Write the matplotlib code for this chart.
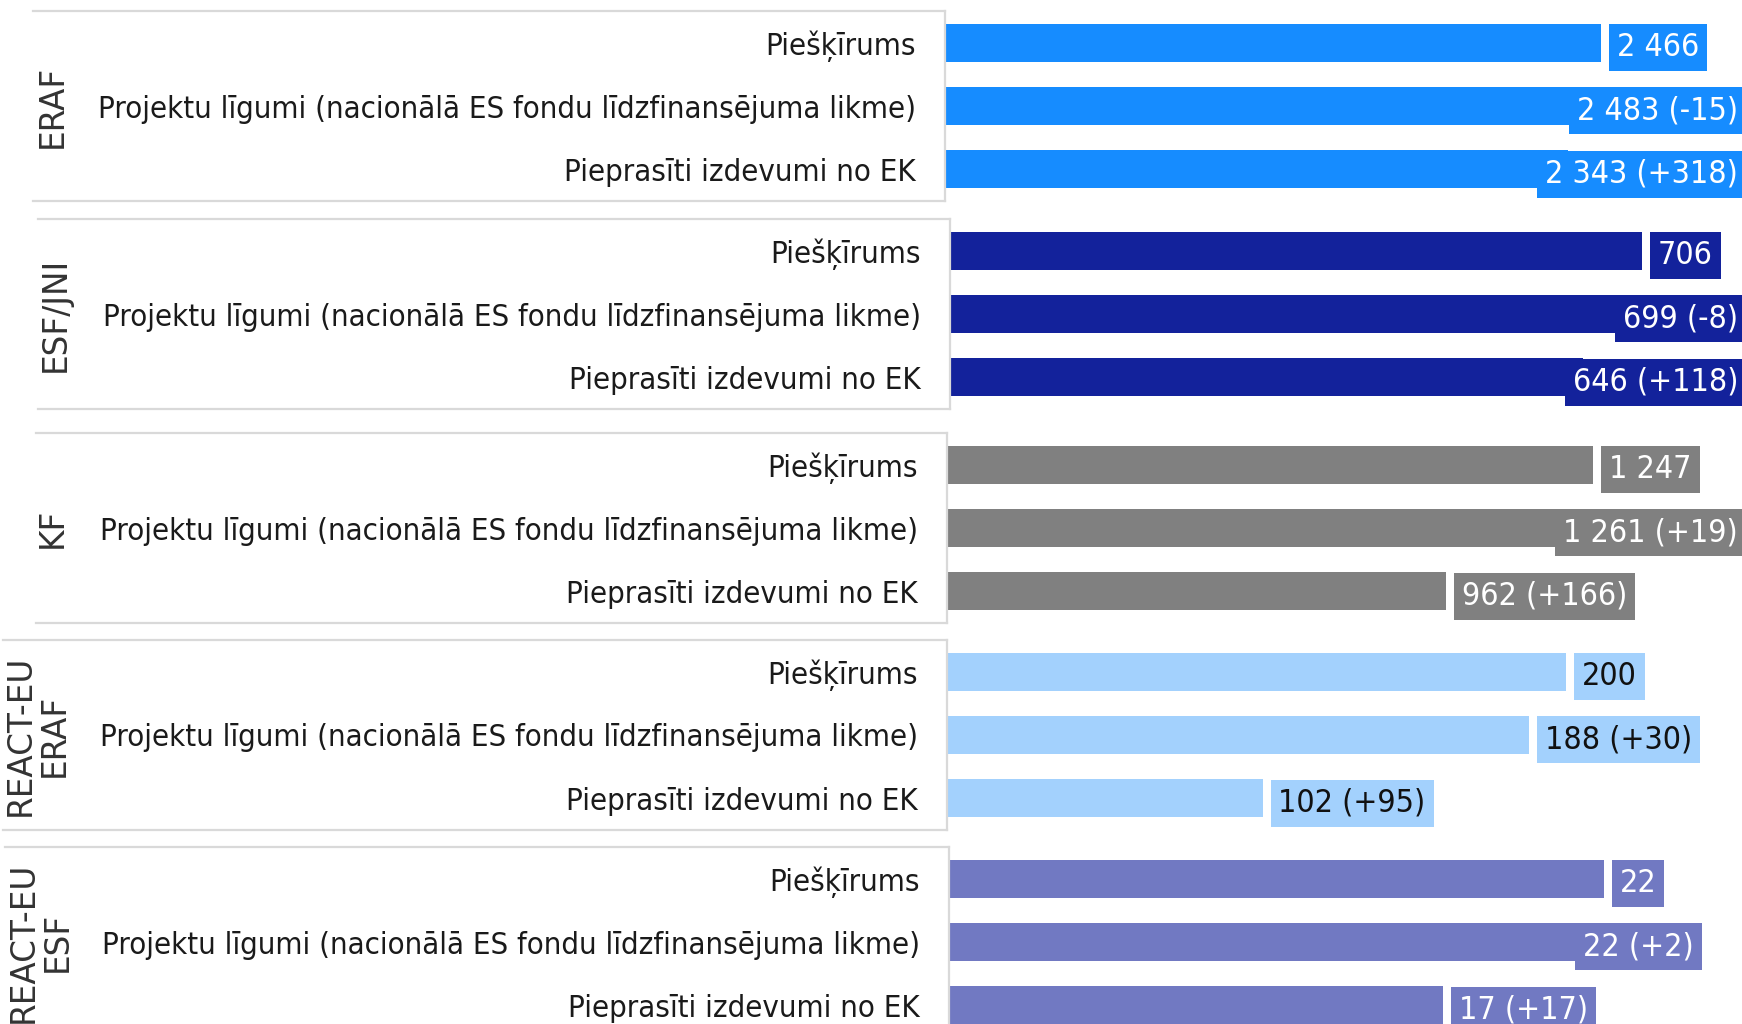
import matplotlib
matplotlib.use("Agg")
import matplotlib.pyplot as plt

# data
groups = ["ERAF", "ESF/JNI", "KF", "REACT-EU\nERAF", "REACT-EU\nESF"]
rows = ["Piešķīrums",
        "Projektu līgumi (nacionālā ES fondu līdzfinansējuma likme)",
        "Pieprasīti izdevumi no EK"]
eraf = [2466, 2483, 2343]
esf_jni = [706, 699, 646]
kf = [1247, 1261, 962]
react_eraf = [200, 188, 102]
react_esf = [22.0, 22.3, 16.6]
eraf_delta = [None, -15, 318]
esf_jni_delta = [None, -8, 118]
kf_delta = [None, 19, 166]
react_eraf_delta = [None, 30, 95]
react_esf_delta = [None, 2, 17]

values = [eraf, esf_jni, kf, react_eraf, react_esf]
deltas = [eraf_delta, esf_jni_delta, kf_delta, react_eraf_delta, react_esf_delta]
colors = ["#168cff", "#13229b", "#808080", "#a3d1fd", "#7179c2"]
text_colors = ["white", "white", "white", "#111111", "white"]

# layout (pixels)
W, H = 1742, 1024
tops = [11, 219, 433, 640, 847]
PH = 190
lefts = [33, 38, 36, 3, 5]
bar_lefts = [945, 950, 947, 947, 949]
xmax = [2996, 808, 1534, 257, 26.65]
label_limit = [1746, 1746, 1746, 1746, 1702]
group_x = [52, 55, 52, 37, 40]
grid_col = "#d9d9d9"


def fmt(v, d):
    s = f"{round(v):,}".replace(",", " ")
    if d is not None:
        s += f" ({d:+d})"
    return s


fig = plt.figure(figsize=(W / 100, H / 100), dpi=100)
anns = []

for i, g in enumerate(groups):
    y0 = (H - tops[i] - PH) / H
    lab = fig.add_axes([lefts[i] / W, y0, (bar_lefts[i] - lefts[i]) / W, PH / H])
    lab.set_xticks([])
    lab.set_yticks([])
    lab.patch.set_alpha(0)
    for s in ["left", "right"]:
        lab.spines[s].set_visible(False)
    for s in ["top", "bottom"]:
        lab.spines[s].set_color(grid_col)
        lab.spines[s].set_linewidth(1.6)
    fig.text(group_x[i] / W, 1 - (tops[i] + PH / 2) / H, g, rotation=90,
             ha="center", va="center", fontsize=23.5, color="#333333",
             family="DejaVu Sans", multialignment="center", linespacing=1.05)

    ax = fig.add_axes([bar_lefts[i] / W, y0, 1 - bar_lefts[i] / W, PH / H])
    ax.patch.set_alpha(0)
    ax.barh(range(3), values[i], height=0.6, color=colors[i])
    ax.set_xlim(0, xmax[i])
    ax.set_ylim(2.5, -0.5)
    ax.set_xticks([])
    ax.set_yticks(range(3), rows)
    ax.tick_params(axis="y", length=0, pad=21, labelsize=22.3, labelcolor="#1a1a1a")
    for t in ax.get_yticklabels():
        t.set_family("DejaVu Sans")
        t.set_stretch("condensed")
    for s in ["top", "right", "bottom"]:
        ax.spines[s].set_visible(False)
    ax.spines["left"].set_color(grid_col)
    ax.spines["left"].set_linewidth(1.6)

    for j, v in enumerate(values[i]):
        a = ax.annotate(fmt(v, deltas[i][j]), xy=(v, j), xytext=(11.5, -1),
                        textcoords="offset points", ha="left", va="center_baseline",
                        fontsize=23, color=text_colors[i], family="DejaVu Sans",
                        fontstretch="condensed", annotation_clip=False,
                        bbox=dict(boxstyle="square,pad=0.25", fc=colors[i], ec="none"))
        anns.append((a, label_limit[i]))

# labels that run past the pane are pulled back to its edge
fig.canvas.draw()
r = fig.canvas.get_renderer()
for a, lim in anns:
    bb = a.get_bbox_patch().get_window_extent(r)
    if bb.x1 > lim:
        dx = (bb.x1 - lim) * 72 / fig.dpi
        a.xyann = (a.xyann[0] - dx, a.xyann[1])

fig.savefig("out.png", dpi=100)
